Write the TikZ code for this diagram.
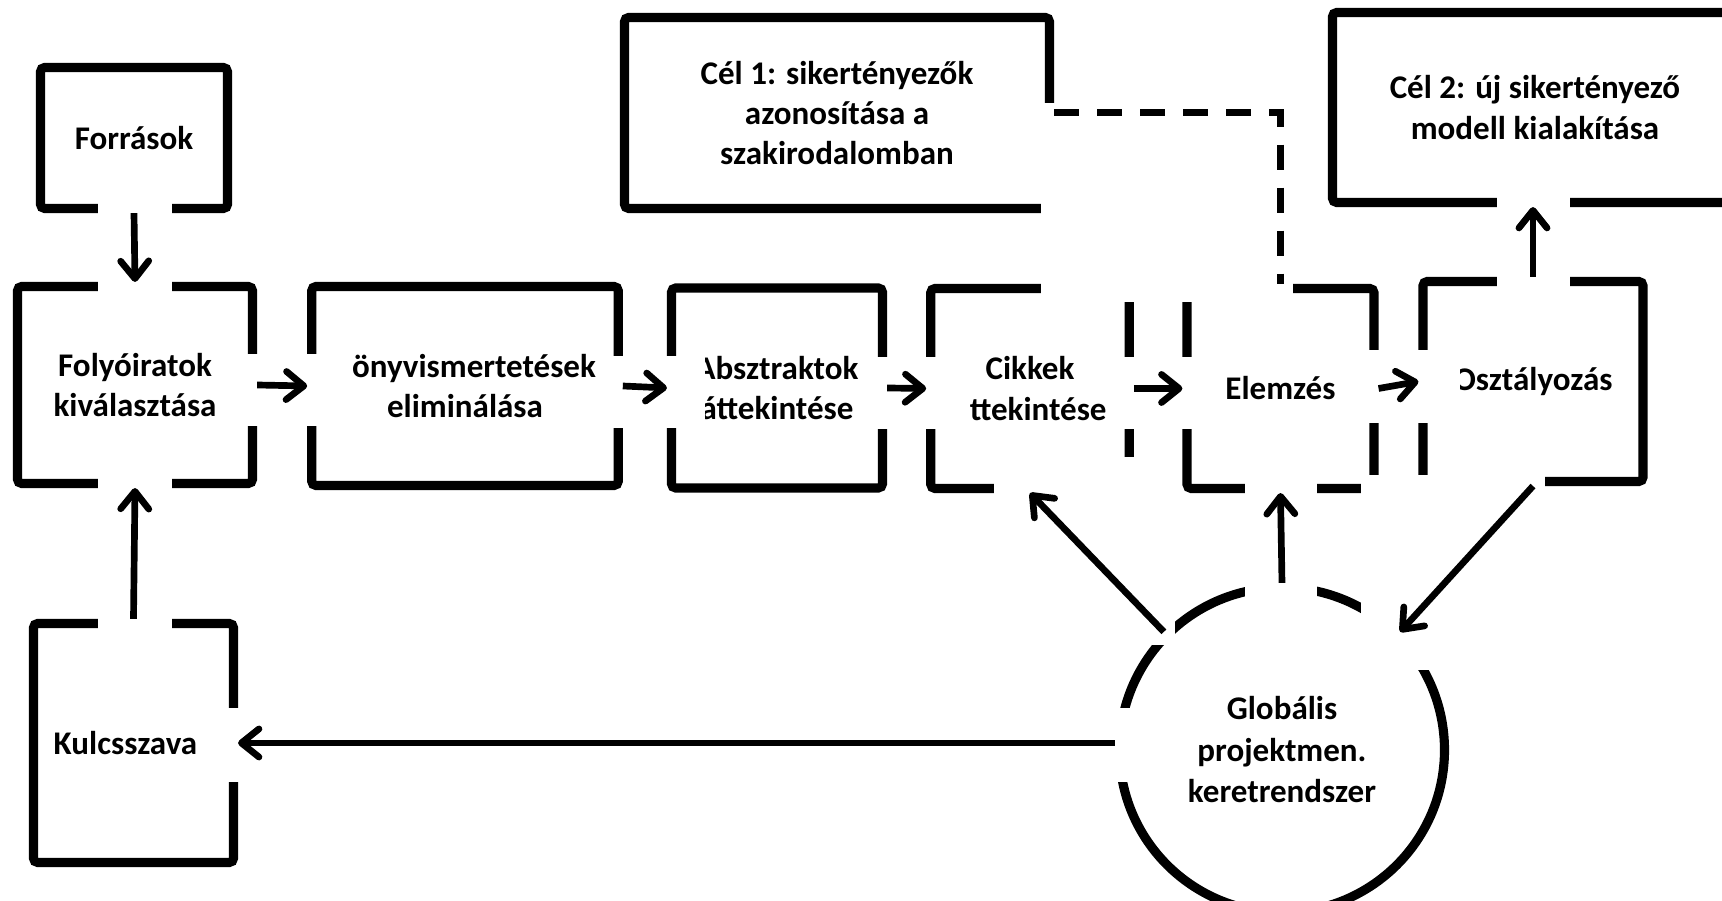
\documentclass[tikz,border=0pt]{standalone}
\usepackage{fontspec}
\setmainfont{Carlito}
\usetikzlibrary{arrows.meta}

\begin{document}
\begin{tikzpicture}[x=1cm,y=1cm,stage/.style={rectangle,draw,line width=2.6pt,rounded corners=1.2pt,align=center,inner sep=0pt,font=\bfseries\fontsize{9.4}{11.5}\selectfont},hub/.style={circle,draw,line width=2.6pt,minimum size=3.25cm,align=center,inner sep=0pt,font=\bfseries\fontsize{9.4}{11.8}\selectfont},gap/.style={fill=white},flow/.style={line width=1.9pt,-{Straight Barb[round,length=5pt,width=8pt]}},goal/.style={line width=2pt,dash pattern=on 2.5mm off 1.8mm}]
\useasboundingbox (0,0) rectangle (17.22,9.01);
\clip (0,0) rectangle (17.22,9.01);
\node[stage,minimum width=1.87cm,minimum height=1.41cm] (src) at (1.34,7.63) {Források};
\node[stage,minimum width=2.35cm,minimum height=1.97cm] (folyo) at (1.35,5.16) {Folyóiratok\\kiválasztása};
\node[stage,minimum width=3.065cm,minimum height=1.99cm] (konyv) at (4.65,5.15) {\hphantom{K}önyvismertetések\\eliminálása};
\node[stage,minimum width=2.11cm,minimum height=2cm] (abs) at (7.77,5.13) {Absztraktok\\áttekintése};
\node[stage,minimum width=1.985cm,minimum height=2cm] (cikk) at (10.30,5.125) {Cikkek\\\hphantom{á}ttekintése};
\node[stage,minimum width=1.87cm,minimum height=2cm] (elem) at (12.805,5.125) {Elemzés};
\node[stage,minimum width=2.2cm,minimum height=2cm] (oszt) at (15.33,5.195) {Osztályozás};
\node[stage,minimum width=4.25cm,minimum height=1.91cm] (cel1) at (8.37,7.88) {Cél 1: sikertényezők\\azonosítása a\\szakirodalomban};
\node[stage,minimum width=4.05cm,minimum height=1.9cm] (cel2) at (15.35,7.935) {Cél 2: új sikertényező\\modell kialakítása};
\node[stage,minimum width=2cm,minimum height=2.39cm] (kulcs) at (1.335,1.58) {Kulcsszava\hspace*{0.16cm}};
\node[hub] (glob) at (12.82,1.51) {Globális\\projektmen.\\keretrendszer};
\fill[gap] (0.98,6.05) rectangle (1.72,7.01);
\fill[gap] (2.40,4.75) rectangle (3.47,5.47);
\fill[gap] (6.08,4.73) rectangle (7.05,5.45);
\fill[gap] (8.72,4.72) rectangle (9.67,5.44);
\fill[gap] (11.15,4.72) rectangle (12.22,5.44);
\fill[gap] (13.62,4.78) rectangle (14.60,5.51);
\fill[gap] (14.97,6.11) rectangle (15.70,7.06);
\fill[gap] (12.45,3.01) rectangle (13.17,4.21);
\fill[gap] (9.94,2.56) rectangle (11.75,4.44);
\fill[gap] (13.61,2.31) rectangle (15.45,4.26);
\fill[gap] (2.05,1.19) rectangle (11.40,1.93);
\fill[gap] (0.98,2.68) rectangle (1.72,4.27);
\fill[gap] (10.41,5.99) rectangle (12.93,7.98);
\draw[flow] (src.south) -- (folyo.north);
\draw[flow] (folyo.east) -- (konyv.west);
\draw[flow] (konyv.east) -- (abs.west);
\draw[flow] (abs.east) -- (cikk.west);
\draw[flow] (cikk.east) -- (elem.west);
\draw[flow] (elem.east) -- (oszt.west);
\draw[flow] (oszt.north) -- (oszt.north |- cel2.south);
\draw[flow] (glob.north) -- (elem.south);
\draw[flow] (glob.135) -- (cikk.south);
\draw[flow] (oszt.south) -- (glob.45);
\draw[flow] (glob.west |- kulcs.east) -- (kulcs.east);
\draw[flow] (kulcs.north) -- (folyo.south);
\draw[goal] (cel1.east) -| (elem.north);
\end{tikzpicture}
\end{document}
